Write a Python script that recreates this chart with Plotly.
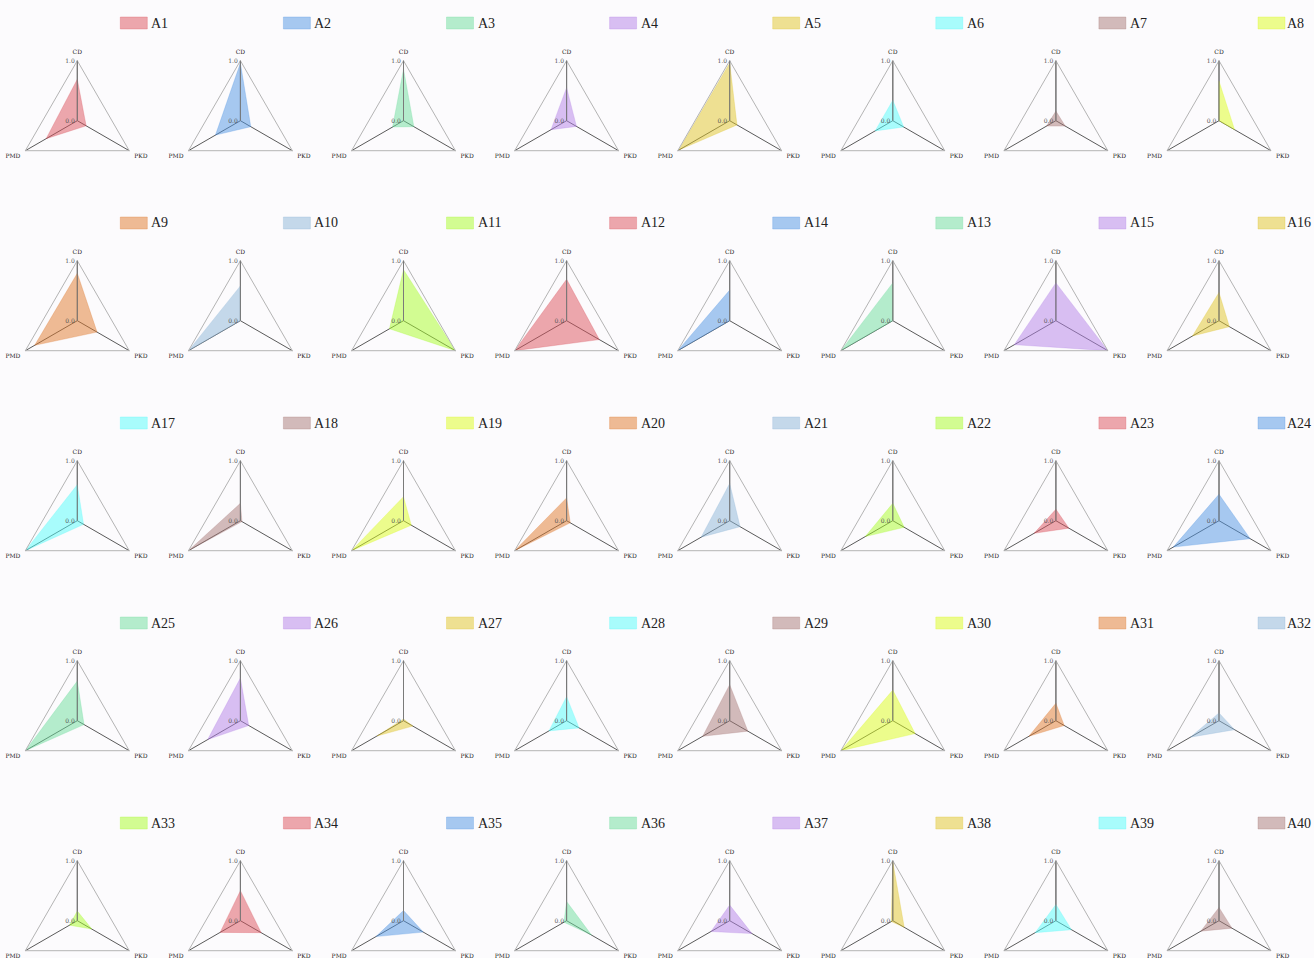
import plotly.graph_objects as go

# Sample names in panel order (5 rows x 8 columns)
names = ["A1", "A2", "A3", "A4", "A5", "A6", "A7", "A8",
         "A9", "A10", "A11", "A12", "A14", "A13", "A15", "A16",
         "A17", "A18", "A19", "A20", "A21", "A22", "A23", "A24",
         "A25", "A26", "A27", "A28", "A29", "A30", "A31", "A32",
         "A33", "A34", "A35", "A36", "A37", "A38", "A39", "A40"]

# Normalised scores per axis
cd = [0.69, 0.96, 0.86, 0.55, 0.96, 0.34, 0.16, 0.66,
      0.79, 0.58, 0.85, 0.69, 0.51, 0.63, 0.63, 0.47,
      0.60, 0.29, 0.40, 0.38, 0.62, 0.29, 0.19, 0.44,
      0.66, 0.71, 0.03, 0.40, 0.60, 0.51, 0.29, 0.13,
      0.16, 0.50, 0.17, 0.32, 0.26, 0.98, 0.27, 0.22]
pkd = [0.17, 0.20, 0.20, 0.19, 0.14, 0.21, 0.18, 0.30,
       0.38, 0.00, 1.00, 0.63, 0.00, 0.00, 1.00, 0.20,
       0.12, 0.03, 0.15, 0.07, 0.20, 0.22, 0.25, 0.60,
       0.13, 0.16, 0.18, 0.24, 0.35, 0.43, 0.16, 0.30,
       0.28, 0.40, 0.38, 0.48, 0.43, 0.22, 0.30, 0.25]
pmd = [0.60, 0.48, 0.21, 0.30, 0.98, 0.34, 0.18, 0.00,
       0.82, 1.00, 0.27, 1.00, 1.00, 1.00, 0.80, 0.51,
       1.00, 1.00, 1.00, 1.00, 0.55, 0.53, 0.42, 0.88,
       1.00, 0.63, 0.51, 0.34, 0.52, 1.00, 0.52, 0.55,
       0.15, 0.39, 0.53, 0.05, 0.36, 0.03, 0.40, 0.35]

axes = ["CD", "PKD", "PMD"]

# Colour cycle (drawn at half opacity)
palette = [(220, 81, 91), (80, 149, 227), (108, 221, 155), (180, 129, 231),
           (224, 197, 39), (84, 253, 251), (168, 121, 119), (220, 253, 27),
           (224, 121, 43), (140, 181, 215), (168, 253, 39)]

# The page is taller than the viewport; the last row runs off the bottom
W, H = 1314, 1000
R = 60
BG = "#fcfbfd"


def rgba(c, a):
    return f"rgba({c[0]},{c[1]},{c[2]},{a})"


fig = go.Figure()
layout_extra = {}
shapes = []
annotations = []

for i, name in enumerate(names):
    row, col = divmod(i, 8)
    cx = 77.3 + 163.1 * col
    cy = 120.7 + 200 * row
    color = palette[i % len(palette)]
    pid = "polar" if i == 0 else f"polar{i + 1}"

    fig.add_trace(go.Scatterpolar(
        r=[cd[i], pkd[i], pmd[i], cd[i]],
        theta=axes + [axes[0]],
        mode="lines",
        fill="toself",
        fillcolor=rgba(color, 0.5),
        line=dict(color=rgba(color, 0.5), width=0.5),
        name=name,
        subplot=pid,
        showlegend=False,
        hoverinfo="name+r+theta",
    ))

    layout_extra[pid] = dict(
        domain=dict(x=[(cx - R) / W, (cx + R) / W],
                    y=[1 - (cy + R) / H, 1 - (cy - R) / H]),
        gridshape="linear",
        bgcolor="rgba(0,0,0,0)",
        angularaxis=dict(
            type="category",
            categoryorder="array",
            categoryarray=axes,
            rotation=90,
            direction="clockwise",
            showline=True,
            linecolor="#b4b4b4",
            linewidth=1,
            showgrid=True,
            gridcolor="#5a5a5a",
            gridwidth=1,
            ticks="outside",
            ticklen=4,
            tickcolor="rgba(0,0,0,0)",
            tickfont=dict(family="DejaVu Serif", size=6, color="#222222"),
        ),
        radialaxis=dict(
            range=[0, 1],
            angle=90,
            side="counterclockwise",
            tickangle=90,
            tickvals=[0, 1],
            ticktext=["0.0", "1.0"],
            showgrid=False,
            showline=True,
            linecolor="#7a7a7a",
            linewidth=1,
            ticks="",
            tickfont=dict(family="DejaVu Serif", size=6, color="#555555"),
        ),
    )

    # Per-panel legend: colour swatch and label (last column nudged left)
    shift = -4 if col == 7 else 0
    shapes.append(dict(
        type="rect", xref="paper", yref="paper",
        x0=(cx + 43 + shift) / W, x1=(cx + 70 + shift) / W,
        y0=1 - (29 + 200 * row) / H, y1=1 - (17 + 200 * row) / H,
        fillcolor=rgba(color, 0.5), line=dict(color=rgba(color, 0.6), width=0.5),
    ))
    annotations.append(dict(
        x=(cx + 72 + shift - (2 if col == 7 else 0)) / W, y=1 - (23 + 200 * row) / H,
        xref="paper", yref="paper", xanchor="left", yanchor="middle",
        text=name, showarrow=False,
        font=dict(family="Liberation Serif", size=14, color="#222222"),
    ))

fig.update_layout(
    width=W, height=H,
    margin=dict(l=0, r=0, t=0, b=0),
    autosize=False,
    paper_bgcolor=BG,
    plot_bgcolor=BG,
    showlegend=False,
    shapes=shapes,
    annotations=annotations,
    **layout_extra,
)

fig.write_html(
    "out.html",
    post_script="document.documentElement.style.overflow='hidden';"
                "document.body.style.overflow='hidden';"
                "document.body.style.margin='0';",
)
